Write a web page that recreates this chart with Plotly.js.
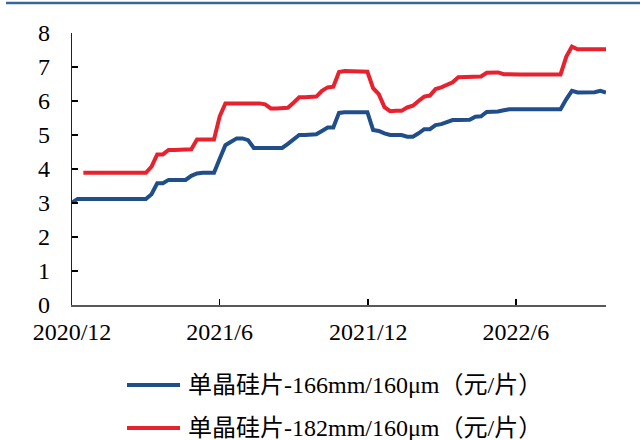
<!DOCTYPE html>
<html>
<head>
<meta charset="utf-8">
<script src="https://cdn.plot.ly/plotly-3.0.1.min.js"></script>
<style>
  html, body { margin: 0; padding: 0; background: #fff; }
  #chart { width: 640px; height: 440px; }
</style>
</head>
<body>
<div id="chart"></div>
<script>
// Weekly price dates
const dates = [
  '2020-12-01','2020-12-08','2020-12-15','2020-12-22','2020-12-29',
  '2021-01-05','2021-01-12','2021-01-19','2021-01-26','2021-02-02',
  '2021-02-09','2021-02-16','2021-02-23','2021-03-02','2021-03-09',
  '2021-03-16','2021-03-23','2021-03-30','2021-04-06','2021-04-13',
  '2021-04-20','2021-04-27','2021-05-04','2021-05-11','2021-05-18',
  '2021-05-25','2021-06-01','2021-06-08','2021-06-15','2021-06-22',
  '2021-06-29','2021-07-06','2021-07-13','2021-07-20','2021-07-27',
  '2021-08-03','2021-08-10','2021-08-17','2021-08-24','2021-08-31',
  '2021-09-07','2021-09-14','2021-09-21','2021-09-28','2021-10-05',
  '2021-10-12','2021-10-19','2021-10-26','2021-11-02','2021-11-09',
  '2021-11-16','2021-11-23','2021-11-30','2021-12-07','2021-12-14',
  '2021-12-21','2021-12-28','2022-01-04','2022-01-11','2022-01-18',
  '2022-01-25','2022-02-01','2022-02-08','2022-02-15','2022-02-22',
  '2022-03-01','2022-03-08','2022-03-15','2022-03-22','2022-03-29',
  '2022-04-05','2022-04-12','2022-04-19','2022-04-26','2022-05-03',
  '2022-05-10','2022-05-17','2022-05-24','2022-05-31','2022-06-07',
  '2022-06-14','2022-06-21','2022-06-28','2022-07-05','2022-07-12',
  '2022-07-19','2022-07-26','2022-08-02','2022-08-09','2022-08-16',
  '2022-08-23','2022-08-30','2022-09-06','2022-09-13','2022-09-20'
];

// 单晶硅片-166mm/160μm（元/片）
const price166 = [
  3.01,3.12,3.12,3.12,3.12,3.12,3.12,3.12,3.12,3.12,3.12,3.12,3.12,3.12,
  3.26,3.58,3.58,3.68,3.68,3.68,3.68,3.80,3.87,3.89,3.89,3.89,
  4.30,4.70,4.80,4.90,4.90,4.85,4.62,4.62,4.62,4.62,4.62,4.62,
  4.74,4.87,5.00,5.00,5.00,5.02,5.12,5.22,5.22,5.65,5.67,5.67,
  5.67,5.67,5.67,5.15,5.12,5.05,5.00,5.00,5.00,4.95,4.95,5.05,
  5.17,5.17,5.29,5.32,5.37,5.44,5.44,5.44,5.45,5.54,5.55,5.68,
  5.69,5.69,5.73,5.76,5.76,5.76,5.76,5.76,5.76,5.76,5.76,5.76,
  5.76,6.05,6.30,6.25,6.25,6.25,6.26,6.30,6.25
];

// 单晶硅片-182mm/160μm（元/片）
const price182 = [
  null,null,3.89,3.89,3.89,3.89,3.89,3.89,3.89,3.89,3.89,3.89,3.89,3.89,
  4.07,4.43,4.43,4.56,4.56,4.56,4.56,4.58,4.87,4.87,4.87,4.87,
  5.55,5.93,5.93,5.93,5.93,5.93,5.93,5.93,5.90,5.78,5.78,5.78,
  5.80,5.95,6.11,6.11,6.11,6.13,6.30,6.40,6.42,6.85,6.88,6.88,
  6.88,6.88,6.86,6.38,6.20,5.82,5.70,5.71,5.71,5.81,5.86,6.00,
  6.13,6.16,6.35,6.40,6.46,6.55,6.70,6.70,6.70,6.70,6.72,6.83,
  6.83,6.84,6.79,6.78,6.78,6.78,6.78,6.78,6.78,6.78,6.78,6.78,
  6.78,7.30,7.60,7.52,7.52,7.52,7.52,7.52,7.52
];

const seriesNames = ['单晶硅片-166mm/160μm（元/片）', '单晶硅片-182mm/160μm（元/片）'];
const seriesColors = ['#1F4E89', '#E8212F'];
const tickDates = ['2020-12-01','2021-06-01','2021-12-01','2022-06-01'];
const tickLabels = ['2020/12','2021/6','2021/12','2022/6'];
const yTicks = [0,1,2,3,4,5,6,7,8];

const FONT = '"Liberation Serif", "Times New Roman", "Noto Sans CJK SC", serif';

// plot area in pixels: x 72..606, y 33..305
const PL = 72, PW = 534, PB = 305, PH = 272;
const px = v => (v - PL) / PW;
const py = v => (PB - v) / PH;

const traces = [
  {x: dates, y: price166, name: seriesNames[0], type: 'scatter', mode: 'lines',
   line: {color: seriesColors[0], width: 4}, connectgaps: false},
  {x: dates, y: price182, name: seriesNames[1], type: 'scatter', mode: 'lines',
   line: {color: seriesColors[1], width: 4}, connectgaps: false}
];

const legendRows = [385, 428];
const shapes = [
  {type: 'line', xref: 'paper', yref: 'paper',
   x0: px(6), x1: px(640), y0: py(3), y1: py(3),
   line: {color: '#35679A', width: 2.5}}
];
const annotations = [];
seriesNames.forEach((name, i) => {
  shapes.push({type: 'line', xref: 'paper', yref: 'paper',
    x0: px(127), x1: px(180), y0: py(legendRows[i]), y1: py(legendRows[i]),
    line: {color: seriesColors[i], width: 4}});
  annotations.push({xref: 'paper', yref: 'paper', x: px(186), y: py(legendRows[i]),
    xanchor: 'left', yanchor: 'middle', showarrow: false, text: name,
    font: {family: FONT, size: 24, color: '#000'}});
});

const layout = {
  width: 640, height: 440,
  margin: {l: 72, r: 34, t: 33, b: 135, autoexpand: false},
  paper_bgcolor: '#ffffff', plot_bgcolor: '#ffffff',
  font: {family: FONT, size: 24, color: '#000'},
  showlegend: false,
  xaxis: {
    type: 'date',
    range: ['2020-12-01', '2022-09-20'],
    tickmode: 'array', tickvals: tickDates, ticktext: tickLabels,
    ticks: 'inside', ticklen: 6, tickwidth: 1.5, tickcolor: '#000',
    showline: true, linecolor: '#595959', linewidth: 2,
    showgrid: false, zeroline: false,
    ticklabelstandoff: 4,
    tickfont: {family: FONT, size: 24, color: '#000'}
  },
  yaxis: {
    range: [0, 8],
    tickmode: 'array', tickvals: yTicks,
    ticks: 'inside', ticklen: 6, tickwidth: 1.2, tickcolor: '#000',
    showline: true, linecolor: '#222', linewidth: 1.3,
    showgrid: false, zeroline: false,
    ticklabelstandoff: 16,
    tickfont: {family: FONT, size: 24, color: '#000'}
  },
  shapes: shapes,
  annotations: annotations
};

Plotly.newPlot('chart', traces, layout, {displayModeBar: false, staticPlot: true});
</script>
</body>
</html>
